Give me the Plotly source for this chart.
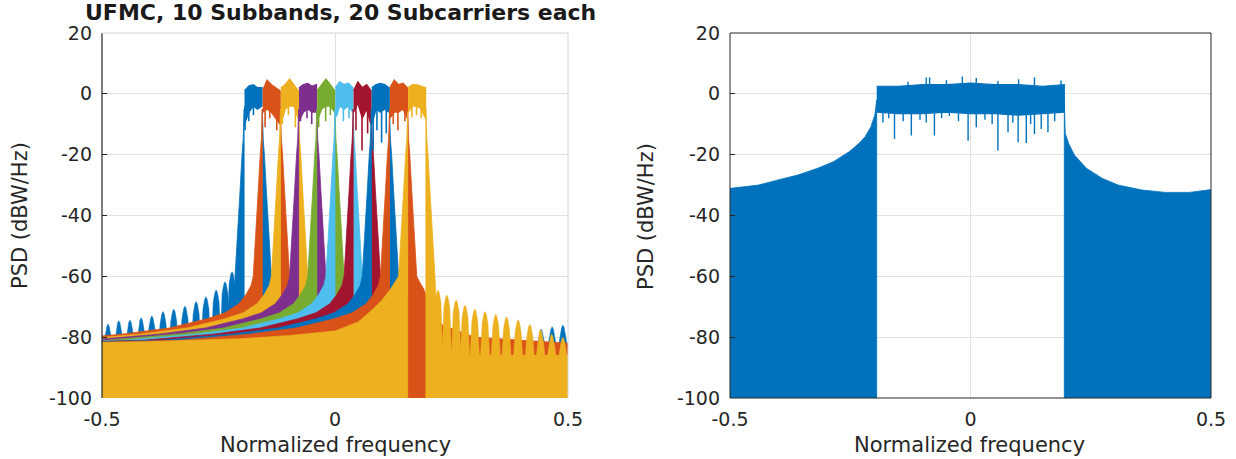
import numpy as np
import plotly.graph_objects as go

# ---------------- data ----------------
# Left panel: UFMC, 10 subbands
band_edges = [-0.195, -0.156, -0.117, -0.078, -0.039, 0.0, 0.039, 0.078, 0.117, 0.156, 0.195]
band_colors = ["#0072BD", "#D95319", "#EDB120", "#7E2F8E", "#77AC30",
               "#4DBEEE", "#A2142F", "#0072BD", "#D95319", "#EDB120"]

# passband upper / lower levels (dB), 5 readings across each subband
pass_upper = [
    [1.0, 2.5, 3.0, 2.0, 2.0],
    [1.0, 4.5, 3.0, 2.0, 1.0],
    [2.0, 3.0, 4.8, 3.0, 1.0],
    [2.0, 3.0, 3.4, 2.5, 3.0],
    [1.0, 3.0, 4.8, 3.0, 1.0],
    [2.0, 3.9, 3.0, 3.5, 2.0],
    [1.0, 3.9, 2.0, 3.0, 1.0],
    [2.0, 3.0, 3.4, 3.0, 2.0],
    [2.0, 4.5, 3.0, 3.5, 2.0],
    [2.0, 3.0, 2.9, 2.5, 2.0],
]
pass_lower = [
    [-10, -6, -4, -5, -4],
    [-6, -5, -6, -8, -10],
    [-10, -5, -4, -4, -8],
    [-9, -6, -5, -6, -6],
    [-9, -5, -4, -4, -6],
    [-8, -4, -5, -4, -6],
    [-6, -3, -8, -5, -10],
    [-10, -5, -6, -5, -6],
    [-8, -6, -6, -5, -8],
    [-6, -4, -4, -5, -8],
]
# deep dips inside each passband (frequency, dB)
pass_dip_f = [
    [-0.193, -0.185, -0.175],
    [-0.150, -0.140, -0.125, -0.120],
    [-0.113, -0.100, -0.085],
    [-0.074, -0.060, -0.050],
    [-0.035, -0.020, -0.010],
    [0.005, 0.018, 0.030],
    [0.045, 0.058, 0.070],
    [0.082, 0.090, 0.100, 0.110],
    [0.125, 0.135, 0.150],
    [0.165, 0.175, 0.185],
]
pass_dip_db = [
    [-12, -9, -7],
    [-11, -8, -12, -8],
    [-10, -7, -11],
    [-9, -8, -10],
    [-11, -9, -7],
    [-7, -9, -8],
    [-12, -18.6, -13],
    [-18.6, -12, -16, -13],
    [-10, -12, -9],
    [-7.8, -7, -8],
]

# typical skirt / sidelobe envelopes: distance from band edge -> dB
skirt_dist = [0.0, 0.002, 0.0045, 0.0088, 0.013, 0.017, 0.0195, 0.024, 0.035, 0.050,
              0.080, 0.120, 0.200, 0.300, 0.450, 0.700]
skirt_db_left = [-5, -15, -20, -32, -42, -52, -60, -63, -66, -69, -72, -74, -77, -79, -81, -82]
skirt_db_right = [-5, -15, -20, -32, -42, -52, -60, -63, -66, -70, -74, -78, -81, -82, -83, -84]

# subband 1 (blue) left skirt floor and visible sidelobe tips
b1_left_f = [-0.195, -0.197, -0.1995, -0.2038, -0.208, -0.212, -0.2145, -0.218, -0.222, -0.600]
b1_left_db = [-5, -15, -20, -32, -42, -52, -60, -75, -82, -82]
b1_tip_f = [-0.487, -0.464, -0.440, -0.416, -0.393, -0.369, -0.346, -0.322, -0.298,
            -0.277, -0.255, -0.236, -0.221, 0.419, 0.442, 0.466, 0.489]
b1_tip_db = [-75.7, -74.6, -74.4, -73.6, -73.0, -71.6, -70.8, -69.8, -68.3,
             -66.7, -64.5, -61.8, -58.5, -78.0, -77.3, -76.6, -76.0]

# subband 9 (orange) right skirt
b9_right_f = [0.156, 0.158, 0.1605, 0.1648, 0.169, 0.173, 0.1755, 0.182, 0.190, 0.205, 0.230, 0.300, 0.600]
b9_right_db = [-5, -15, -20, -32, -42, -52, -60, -62, -64, -70, -76, -80, -83]

# subband 10 (yellow) left envelope, right skirt floor and right sidelobe tips
b10_left_f = [0.156, 0.154, 0.1515, 0.1472, 0.143, 0.139, 0.1365, 0.120, 0.100, 0.080, 0.050,
              0.0, -0.100, -0.200, -0.300, -0.400, -0.600]
b10_left_db = [-6, -15, -20, -32, -42, -52, -60, -64, -68, -71, -75,
               -78, -79.5, -80.5, -81, -81.5, -82]
b10_right_f = [0.195, 0.197, 0.1995, 0.2038, 0.208, 0.212, 0.2145, 0.218, 0.222, 0.600]
b10_right_db = [-5, -15, -20, -32, -42, -52, -60, -75, -86, -86]
b10_tip_f = [0.221, 0.240, 0.260, 0.279, 0.300, 0.322, 0.345, 0.368, 0.393, 0.418, 0.441, 0.465, 0.489]
b10_tip_db = [-64.5, -66.2, -67.8, -69.5, -70.8, -71.6, -72.5, -73.3, -74.3, -75.8, -77.5, -79.0, -80.0]

# Right panel: single wideband signal
ofdm_left_f = [-0.195, -0.199, -0.207, -0.219, -0.232, -0.252, -0.285, -0.318, -0.359,
               -0.400, -0.441, -0.4985, -0.600]
ofdm_left_db = [-2.0, -7.0, -10.8, -14.1, -16.3, -19.0, -22.3, -24.5, -26.7,
                -28.3, -30.0, -31.07, -31.5]
ofdm_right_f = [0.195, 0.197, 0.204, 0.216, 0.241, 0.274, 0.307, 0.356, 0.405, 0.455, 0.504, 0.600]
ofdm_right_db = [-3.0, -13.0, -16.3, -20.1, -24.5, -27.8, -30.0, -31.6, -32.4, -32.4, -31.4, -31.0]
ofdm_pass_f = [-0.195, -0.150, -0.100, -0.050, 0.0, 0.050, 0.100, 0.150, 0.195]
ofdm_pass_upper = [2.5, 2.5, 3.0, 3.0, 3.5, 3.0, 3.0, 2.5, 3.0]
ofdm_pass_lower = [-6.0, -6.5, -6.5, -6.0, -6.5, -6.5, -7.0, -6.5, -6.0]
ofdm_dip_f = [-0.182, -0.170, -0.158, -0.140, -0.123, -0.105, -0.092, -0.075, -0.060, -0.044,
              -0.025, -0.005, 0.012, 0.030, 0.045, 0.057, 0.078, 0.088, 0.099, 0.116,
              0.125, 0.133, 0.147, 0.161, 0.175]
ofdm_dip_db = [-9.4, -8.0, -14.8, -9.0, -13.7, -8.5, -9.4, -13.7, -8.0, -7.3,
               -9.0, -15.4, -11.0, -8.5, -10.0, -18.6, -12.6, -9.5, -15.9, -16.2,
               -10.0, -13.2, -11.6, -12.6, -9.0]
ofdm_peak_f = [-0.130, -0.092, -0.085, -0.050, -0.017, 0.012, 0.057, 0.100, 0.133, 0.188]
ofdm_peak_db = [4.0, 5.4, 5.4, 4.5, 5.7, 5.2, 4.2, 4.8, 5.4, 4.4]

y_ticks = [-100, -80, -60, -40, -20, 0, 20]
y_tick_text = ["-100", "-80", "-60", "-40", "-20", "0", "20"]
x_ticks = [-0.5, 0, 0.5]
x_tick_text = ["-0.5", "0", "0.5"]

# ---------------- figure ----------------
W, H = 1236, 459
FLOOR = -106
fig = go.Figure()


def add_fill(xs, ys, color, xa, ya, lw=0.8):
    fig.add_trace(go.Scatter(x=xs, y=ys, mode="lines", fill="toself", fillcolor=color,
                             line=dict(color=color, width=lw), hoverinfo="skip",
                             showlegend=False, xaxis=xa, yaxis=ya))


def envelope_fill(fs, dbs, color, xa="x", ya="y"):
    xs = [fs[0]] + list(fs) + [fs[-1]]
    ys = [FLOOR] + list(dbs) + [FLOOR]
    add_fill(xs, ys, color, xa, ya)


def teeth_fill(fs, dbs, base, color, hw=0.0105):
    xs, ys = [], []
    for f, v in zip(fs, dbs):
        xs += [f - hw, f - 0.6 * hw, f - 0.25 * hw, f, f + 0.25 * hw, f + 0.6 * hw, f + hw, f - hw, None]
        ys += [base, v - 4, v - 0.8, v, v - 0.8, v - 4, base, base, None]
    add_fill(xs, ys, color, "x", "y", lw=0.5)


def segments(fs, dbs, base, color, xa, ya, lw=1.6):
    xs, ys = [], []
    for f, v in zip(fs, dbs):
        xs += [f, f, None]
        ys += [base, v, None]
    fig.add_trace(go.Scatter(x=xs, y=ys, mode="lines", line=dict(color=color, width=lw),
                             hoverinfo="skip", showlegend=False, xaxis=xa, yaxis=ya))


for k in range(10):
    c = band_colors[k]
    L, R = band_edges[k], band_edges[k + 1]
    # left side
    if k == 0:
        envelope_fill(b1_left_f, b1_left_db, c)
    elif k == 9:
        envelope_fill(b10_left_f, b10_left_db, c)
    else:
        envelope_fill([L - d for d in skirt_dist], skirt_db_left, c)
    # right side
    if k == 8:
        envelope_fill(b9_right_f, b9_right_db, c)
    elif k == 9:
        envelope_fill(b10_right_f, b10_right_db, c)
    else:
        envelope_fill([R + d for d in skirt_dist], skirt_db_right, c)
    if k == 0:
        teeth_fill(b1_tip_f, b1_tip_db, -84, c)
    if k == 9:
        teeth_fill(b10_tip_f, b10_tip_db, -88, c)
    # passband
    xs = list(np.linspace(L + 0.0008, R - 0.0008, 5))
    add_fill(xs + xs[::-1], pass_upper[k] + pass_lower[k][::-1], c, "x", "y", lw=1.4)
    segments(pass_dip_f[k], pass_dip_db[k], -4, c, "x", "y")

# right panel
blue = "#0072BD"
envelope_fill(ofdm_left_f, ofdm_left_db, blue, "x2", "y2")
envelope_fill(ofdm_right_f, ofdm_right_db, blue, "x2", "y2")
add_fill(ofdm_pass_f + ofdm_pass_f[::-1], ofdm_pass_upper + ofdm_pass_lower[::-1], blue, "x2", "y2", lw=1.2)
segments(ofdm_dip_f, ofdm_dip_db, -5, blue, "x2", "y2", lw=1.4)
segments(ofdm_peak_f, ofdm_peak_db, 2, blue, "x2", "y2", lw=1.4)

# ---------------- layout ----------------
x1d = [102 / W, 568 / W]
x2d = [730 / W, 1211 / W]
yd = [1 - 398 / H, 1 - 33 / H]
tick_font = dict(family="DejaVu Sans", size=19, color="#262626")
grid = "#e2e2e2"

common_x = dict(range=[-0.5, 0.5], tickvals=x_ticks, ticktext=x_tick_text, showgrid=True,
                gridcolor=grid, gridwidth=1, zeroline=False, showline=False, ticks="",
                tickfont=tick_font, ticklabelstandoff=8, fixedrange=True, automargin=False)
common_y = dict(range=[-100, 20], tickvals=y_ticks, ticktext=y_tick_text, showgrid=True,
                gridcolor=grid, gridwidth=1, zeroline=False, showline=False, ticks="inside",
                ticklen=5, tickcolor="#262626", tickfont=tick_font, ticklabelstandoff=9,
                fixedrange=True, automargin=False)

fig.update_layout(
    width=W, height=H, margin=dict(l=0, r=0, t=0, b=0, autoexpand=False),
    paper_bgcolor="white", plot_bgcolor="white", showlegend=False,
    xaxis=dict(domain=x1d, anchor="y", **common_x),
    yaxis=dict(domain=yd, anchor="x", **common_y),
    xaxis2=dict(domain=x2d, anchor="y2", **common_x),
    yaxis2=dict(domain=yd, anchor="x2", **common_y),
)

dark = "#262626"
light = "#d4d4d4"
shapes = [
    # left panel frame
    dict(type="line", xref="paper", yref="paper", x0=x1d[0], x1=x1d[0], y0=yd[0], y1=yd[1],
         line=dict(color=dark, width=1.2)),
    dict(type="line", xref="paper", yref="paper", x0=x1d[0], x1=x1d[1], y0=yd[1], y1=yd[1],
         line=dict(color=light, width=1)),
    dict(type="line", xref="paper", yref="paper", x0=x1d[1], x1=x1d[1], y0=yd[0], y1=yd[1],
         line=dict(color=light, width=1)),
]
for (a, b) in [(x2d[0], x2d[0]), (x2d[1], x2d[1])]:
    shapes.append(dict(type="line", xref="paper", yref="paper", x0=a, x1=b, y0=yd[0], y1=yd[1],
                       line=dict(color=dark, width=1)))
for yy in yd:
    shapes.append(dict(type="line", xref="paper", yref="paper", x0=x2d[0], x1=x2d[1], y0=yy, y1=yy,
                       line=dict(color=dark, width=1)))
fig.update_layout(shapes=shapes)

label_font = dict(family="DejaVu Sans", size=21, color="#262626")
ann = [
    dict(text="<b>UFMC, 10 Subbands, 20 Subcarriers each</b>", x=340 / W, y=1 - 12 / H,
         xref="paper", yref="paper", showarrow=False, xanchor="center", yanchor="middle",
         font=dict(family="DejaVu Sans", size=22, color="#1a1a1a")),
    dict(text="Normalized frequency", x=335 / W, y=1 - 445 / H, xref="paper", yref="paper",
         showarrow=False, xanchor="center", yanchor="middle", font=label_font),
    dict(text="Normalized frequency", x=970 / W, y=1 - 445 / H, xref="paper", yref="paper",
         showarrow=False, xanchor="center", yanchor="middle", font=label_font),
    dict(text="PSD (dBW/Hz)", x=20 / W, y=1 - 216 / H, xref="paper", yref="paper",
         showarrow=False, xanchor="center", yanchor="middle", textangle=-90, font=label_font),
    dict(text="PSD (dBW/Hz)", x=646 / W, y=1 - 216 / H, xref="paper", yref="paper",
         showarrow=False, xanchor="center", yanchor="middle", textangle=-90, font=label_font),
]
fig.update_layout(annotations=ann)

fig.write_html("out.html", config={"displayModeBar": False},
               post_script="document.body.style.margin='0px';")
